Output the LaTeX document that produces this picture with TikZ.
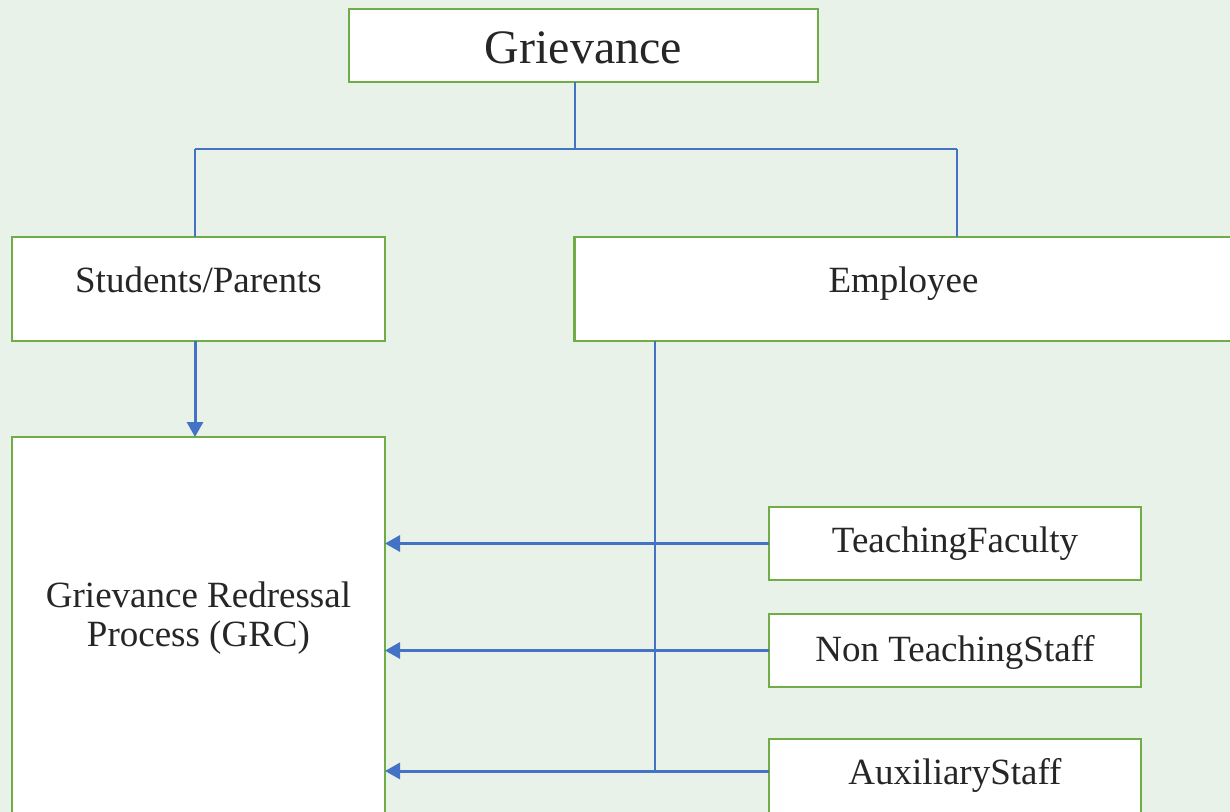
\documentclass[tikz,border=0pt]{standalone}
\usepackage{fontspec}
\setmainfont{Liberation Serif}
\usetikzlibrary{arrows.meta}
\definecolor{bg}{HTML}{E8F2E8}
\definecolor{boxgreen}{HTML}{70AD47}
\definecolor{lineblue}{HTML}{4472C4}
\definecolor{txt}{HTML}{262626}
\tikzset{
  box/.style={draw=boxgreen, line width=1.4pt, fill=white, inner sep=0pt, outer sep=0pt,
    text=txt, font=\fontsize{18.5}{22}\selectfont, align=center,
    text height=12.25pt, text depth=0pt},
  boxtext/.style={text=txt, font=\fontsize{18.5}{19.5}\selectfont, align=center},
  thin/.style={draw=lineblue, line width=0.7pt},
  arr/.style={draw=lineblue, line width=1.5pt, -{Triangle[length=7.5pt,width=8pt]}},
}
\begin{document}
\begin{tikzpicture}[x=0.5pt,y=-0.5pt]
\fill[bg] (0,0) rectangle (1230,812);
\useasboundingbox (0,0) rectangle (1230,812);
\clip (0,0) rectangle (1230,812);

\node[box, minimum width=234.5pt, minimum height=36.5pt, font=\fontsize{24}{28}\selectfont,
  text height=18.4pt] (grv) at (583.5,45.5) {Grievance};
\node[box, minimum width=186.5pt, minimum height=52pt, text depth=9pt] (sp) at (198.5,289) {Students/Parents};
\node[box, minimum width=329pt, minimum height=52pt, text depth=9pt] (emp) at (903.5,289) {Employee};
\node[box, minimum width=186.5pt, minimum height=189pt,
  label={[boxtext, yshift=4pt]center:Grievance Redressal\\Process (GRC)}] (grc) at (198.5,626) {};
\node[box, minimum width=186pt, minimum height=36.5pt, text depth=3.5pt] (tf) at (955,543.5) {TeachingFaculty};
\node[box, minimum width=186pt, minimum height=36.5pt, text depth=1.5pt] (nts) at (955,650.5) {Non TeachingStaff};
\node[box, minimum width=186pt, minimum height=38pt,
  label={[boxtext, text height=12.25pt, text depth=0pt, yshift=2.5pt]center:AuxiliaryStaff}] (aux) at (955,777) {};

\coordinate (jl) at (195,149);
\coordinate (jr) at (957,149);
\coordinate (jt) at (575,149);
\coordinate (ev) at (655,771);
\coordinate (auxin) at (aux.west |- ev);

\draw[thin] (grv.south -| jt) -- (jt);
\draw[thin] (jl) -- (jr);
\draw[thin] (jl) -- (jl |- sp.north);
\draw[thin] (jr) -- (jr |- emp.north);
\draw[thin] (emp.south -| ev) -- (ev);

\draw[arr] (sp.south -| jl) -- (grc.north -| jl);
\draw[arr] (tf.west) -- (grc.east |- tf.west);
\draw[arr] (nts.west) -- (grc.east |- nts.west);
\draw[arr] (auxin) -- (grc.east |- auxin);
\end{tikzpicture}
\end{document}
